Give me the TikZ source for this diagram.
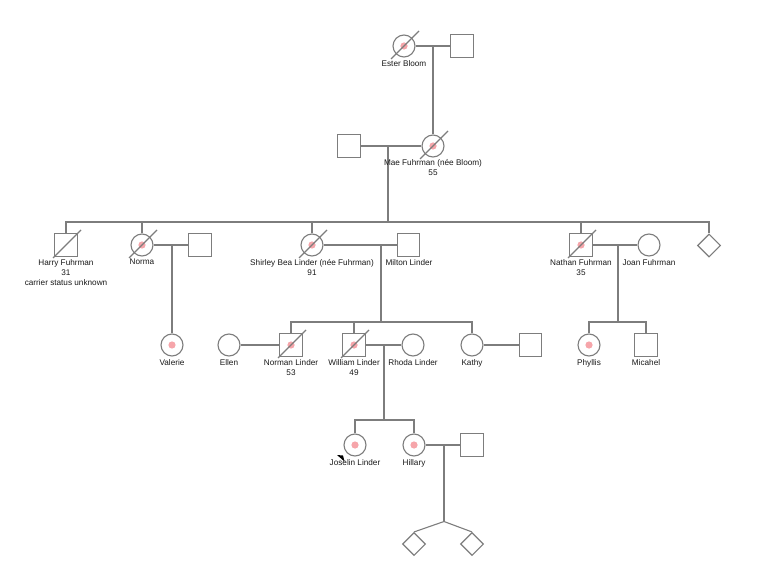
\documentclass[tikz,border=0pt]{standalone}
\usepackage{fontspec}
\setmainfont{Liberation Sans}
\usetikzlibrary{shapes.geometric}
\definecolor{ln}{RGB}{125,125,125}
\definecolor{dotc}{RGB}{246,165,170}
\definecolor{txt}{RGB}{25,25,25}
\tikzset{
  base/.style={draw=ln, line width=1.1pt, inner sep=0pt, fill=white},
  fem/.style={base, circle, minimum size=22pt},
  male/.style={base, rectangle, minimum size=22.5pt},
  unk/.style={base, diamond, minimum size=23pt},
  conn/.style={draw=ln, line width=1.1pt},
  lbl/.style={font=\fontsize{8.2}{10}\selectfont, text=txt, align=center, inner sep=0pt, anchor=north},
}
\newcommand{\deadmark}[1]{\draw[conn] ([shift={(-13,13)}]#1.center) -- ([shift={(15,-15)}]#1.center);}
\newcommand{\affdot}[1]{\fill[dotc] (#1.center) circle (3.6pt);}
\begin{document}
\begin{tikzpicture}[x=1pt, y=-1pt]
\useasboundingbox (0,0) rectangle (765,577);
% generation I
\node[fem] (ester) at (404,46) {};
\node[male] (esterp) at (462,46) {};
% generation II
\node[fem] (mae) at (433,146) {};
\node[male] (maep) at (349,146) {};
% generation III
\node[male] (harry) at (66,245) {};
\node[fem] (norma) at (142,245) {};
\node[male] (normap) at (200,245) {};
\node[fem] (shirley) at (312,245) {};
\node[male] (milton) at (408.5,245) {};
\node[male] (nathan) at (581,245) {};
\node[fem] (joan) at (649,245) {};
\node[unk] (diam) at (709,245.5) {};
% generation IV
\node[fem] (valerie) at (172,345) {};
\node[fem] (ellen) at (229,345) {};
\node[male] (norman) at (291,345) {};
\node[male] (william) at (354,345) {};
\node[fem] (rhoda) at (413,345) {};
\node[fem] (kathy) at (472,345) {};
\node[male] (kathyp) at (530.5,345) {};
\node[fem] (phyllis) at (589,345) {};
\node[male] (micahel) at (646,345) {};
% generation V
\node[fem] (joselin) at (355,445) {};
\node[fem] (hillary) at (414,445) {};
\node[male] (hillaryp) at (472,445) {};
% generation VI
\node[unk] (twa) at (414,544) {};
\node[unk] (twb) at (472,544) {};

% coordinates
\coordinate (em) at (433,46);
\coordinate (mm) at (388,146);
\coordinate (sb) at (388,222);
\coordinate (nm) at (172,245);
\coordinate (sm) at (381,245);
\coordinate (cb) at (381,322);
\coordinate (nj) at (618,245);
\coordinate (pb) at (618,322);
\coordinate (wm) at (384,345);
\coordinate (gb) at (384,420);
\coordinate (hm) at (444,445);
\coordinate (apex) at (444,521.5);

% connectors
\draw[conn] (ester.east) -- (esterp.west);
\draw[conn] (em) -- (mae.north);
\draw[conn] (maep.east) -- (mae.west);
\draw[conn] (mm) -- (sb);
\draw[conn] (harry.north) |- (sb) -| (diam.north);
\draw[conn] (norma.north) -- (norma.north |- sb);
\draw[conn] (shirley.north) -- (shirley.north |- sb);
\draw[conn] (nathan.north) -- (nathan.north |- sb);
\draw[conn] (norma.east) -- (normap.west);
\draw[conn] (nm) -- (valerie.north);
\draw[conn] (shirley.east) -- (milton.west);
\draw[conn] (sm) -- (cb);
\draw[conn] (norman.north) |- (cb) -| (kathy.north);
\draw[conn] (william.north) -- (william.north |- cb);
\draw[conn] (ellen.east) -- (norman.west);
\draw[conn] (william.east) -- (rhoda.west);
\draw[conn] (kathy.east) -- (kathyp.west);
\draw[conn] (nathan.east) -- (joan.west);
\draw[conn] (nj) -- (pb);
\draw[conn] (phyllis.north) |- (pb) -| (micahel.north);
\draw[conn] (wm) -- (gb);
\draw[conn] (joselin.north) |- (gb) -| (hillary.north);
\draw[conn] (hillary.east) -- (hillaryp.west);
\draw[conn] (hm) -- (apex);
\draw[conn] (apex) -- (twa.north);
\draw[conn] (apex) -- (twb.north);

% affected dots
\affdot{ester}
\affdot{mae}
\affdot{norma}
\affdot{shirley}
\affdot{nathan}
\affdot{valerie}
\affdot{norman}
\affdot{william}
\affdot{phyllis}
\affdot{joselin}
\affdot{hillary}

% deceased marks
\deadmark{ester}
\deadmark{mae}
\deadmark{harry}
\deadmark{norma}
\deadmark{shirley}
\deadmark{nathan}
\deadmark{norman}
\deadmark{william}

% proband arrow
\fill[black] (337,455) -- (343,455.5) -- (344.5,461.5) -- cycle;

% labels
\node[lbl] (l1) at (404,60) {Ester Bloom};
\node[lbl] (l2) at (433,159) {Mae Fuhrman (née Bloom)\\55};
\node[lbl] (l3) at (66,259) {Harry Fuhrman\\31\\carrier status unknown};
\node[lbl] (l4) at (142,259) {Norma};
\node[lbl] (l5) at (312,259) {Shirley Bea Linder (née Fuhrman)\\91};
\node[lbl] (l6) at (409,259) {Milton Linder};
\node[lbl] (l7) at (581,259) {Nathan Fuhrman\\35};
\node[lbl] (l8) at (649,259) {Joan Fuhrman};
\node[lbl] (l9) at (172,359) {Valerie};
\node[lbl] (l10) at (229,359) {Ellen};
\node[lbl] (l11) at (291,359) {Norman Linder\\53};
\node[lbl] (l12) at (354,359) {William Linder\\49};
\node[lbl] (l13) at (413,359) {Rhoda Linder};
\node[lbl] (l14) at (472,359) {Kathy};
\node[lbl] (l15) at (589,359) {Phyllis};
\node[lbl] (l16) at (646,359) {Micahel};
\node[lbl] (l17) at (355,459) {Joselin Linder};
\node[lbl] (l18) at (414,459) {Hillary};
\end{tikzpicture}
\end{document}
